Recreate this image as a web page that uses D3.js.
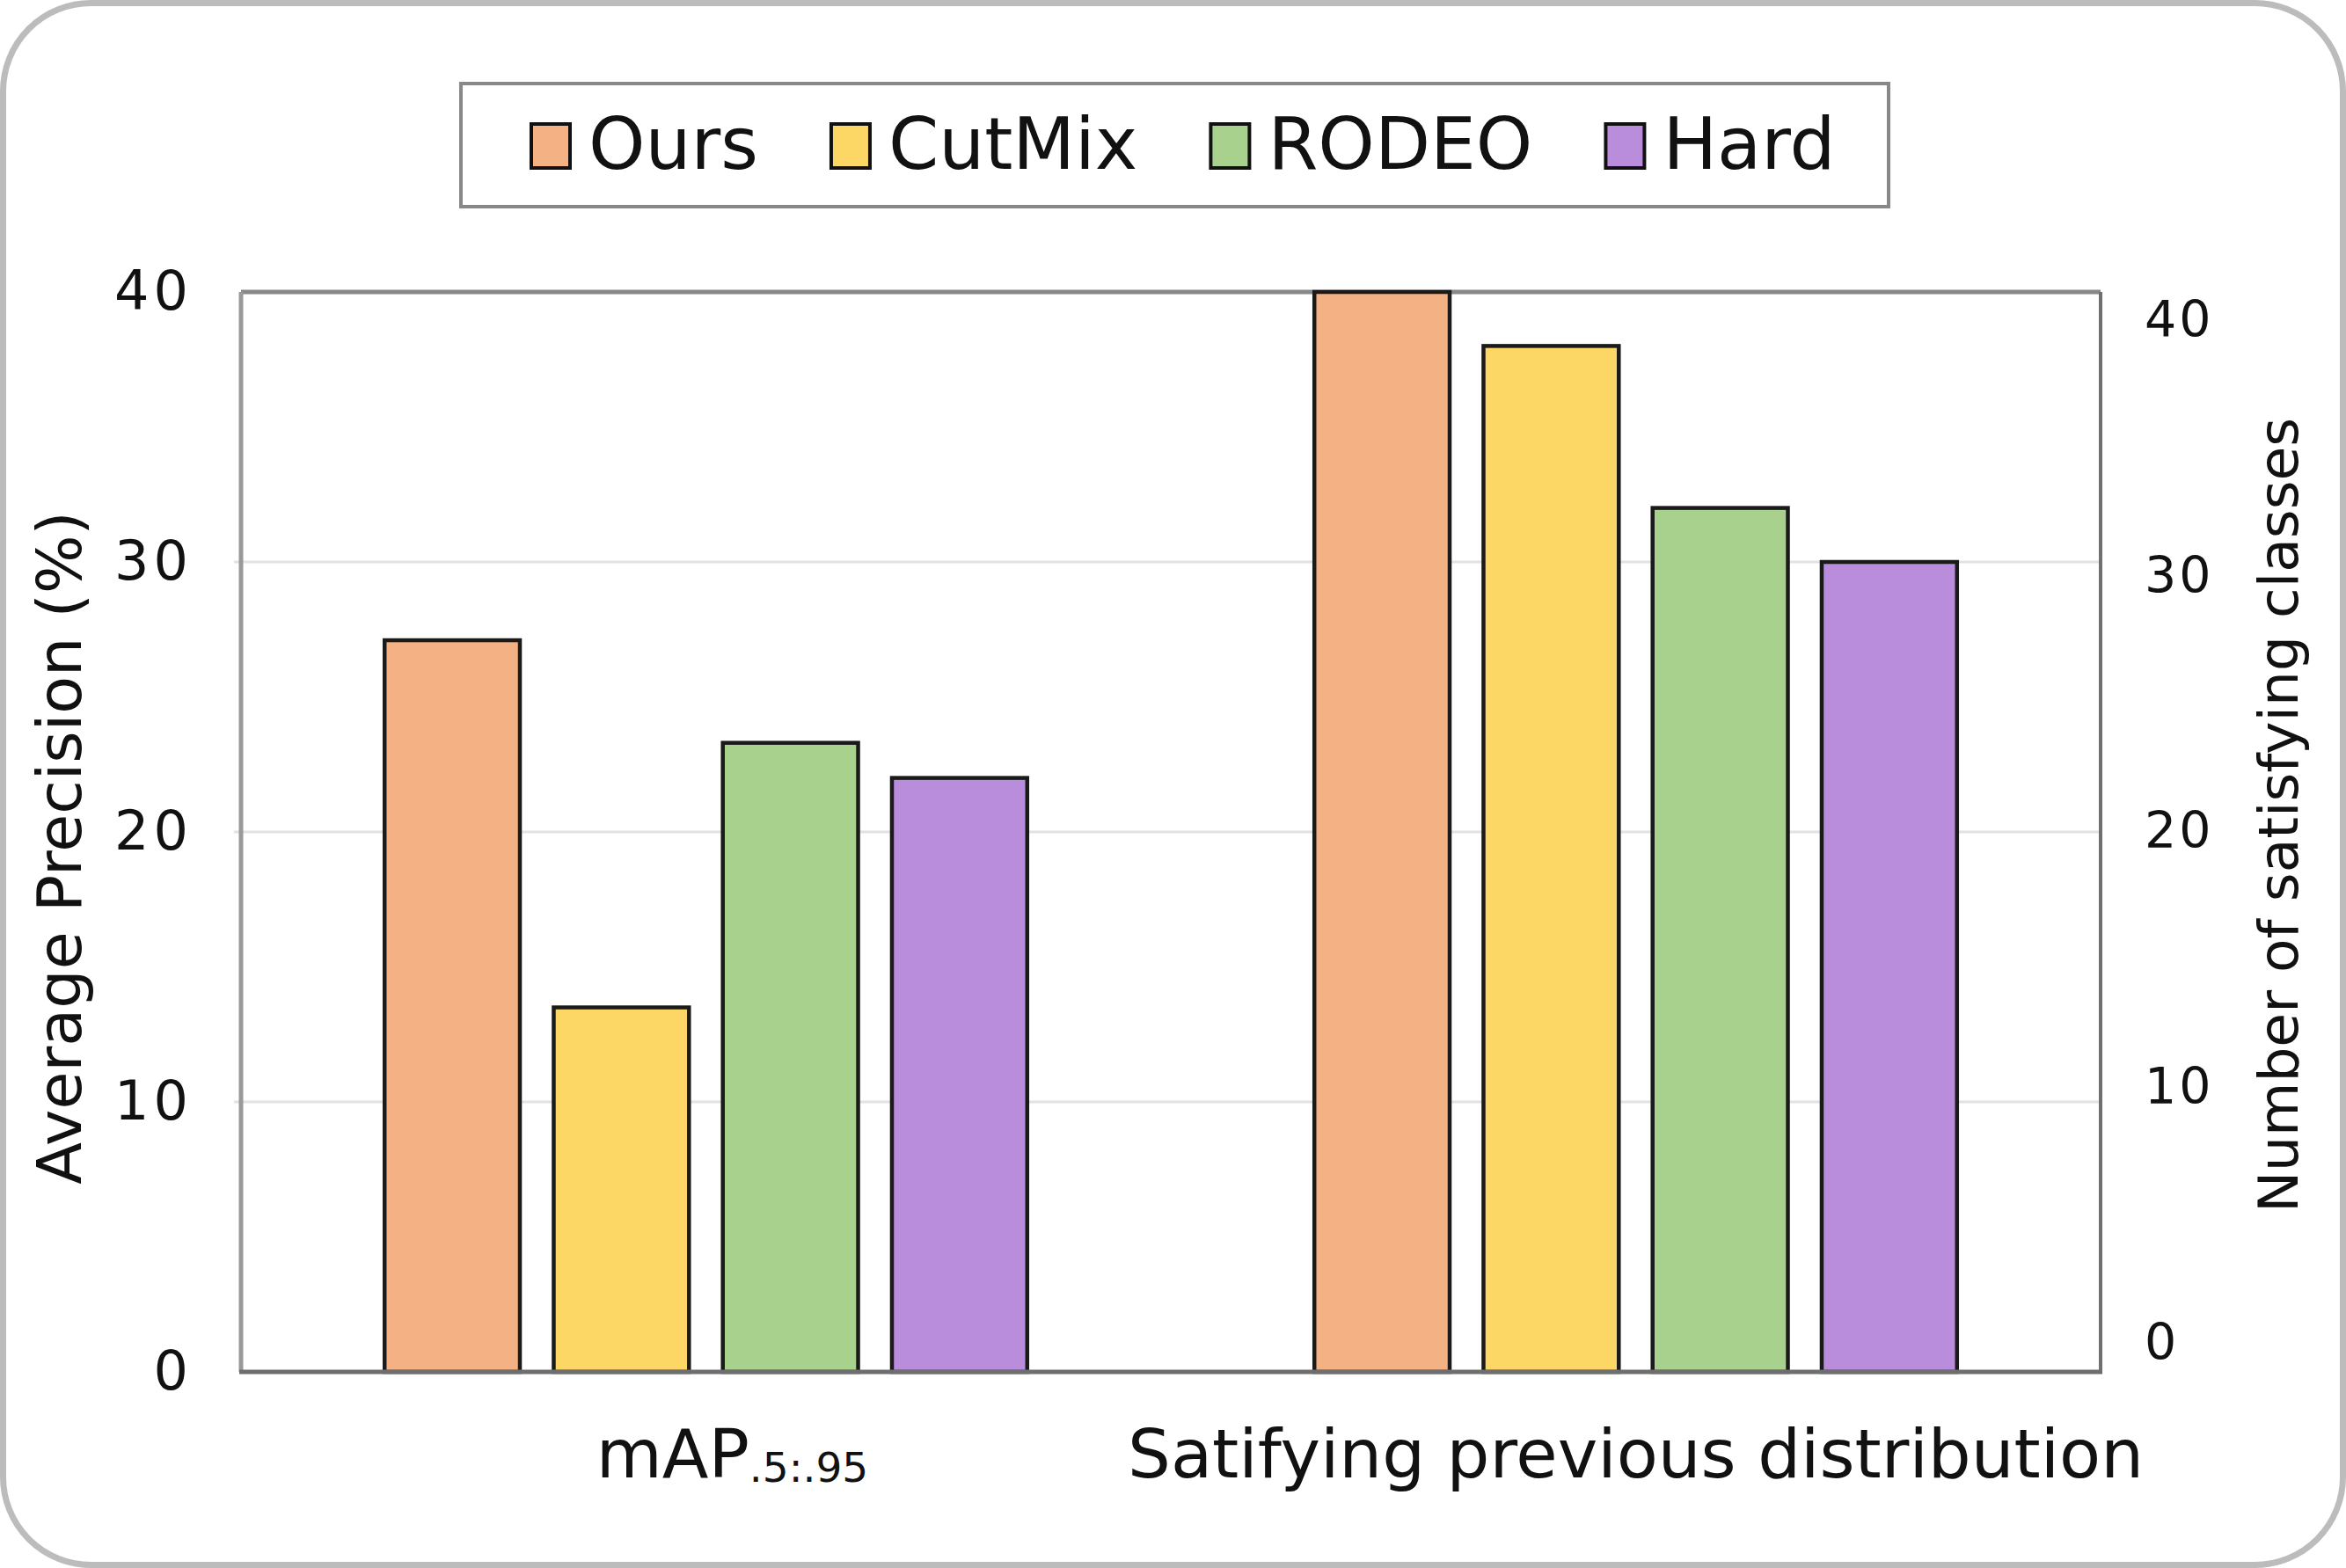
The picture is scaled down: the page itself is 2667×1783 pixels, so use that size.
<!DOCTYPE html>
<html>
<head>
<meta charset="utf-8">
<script src="https://cdn.jsdelivr.net/npm/d3@7"></script>
<style>
  html, body { margin: 0; padding: 0; background: #ffffff; }
  svg { display: block; font-family: "DejaVu Sans", Verdana, sans-serif; }
</style>
</head>
<body>
<svg id="chart" width="2667" height="1783"></svg>
<script>
// ---- data ----
const groups = ["mAP", "Satifying previous distribution"];
const series = ["Ours", "CutMix", "RODEO", "Hard"];
const colors = ["#F4B183", "#FDD766", "#A9D18E", "#B98CDC"];
const valuesMAP = [27.1, 13.5, 23.3, 22.0];
const valuesSatisfying = [40, 38, 32, 30];
const leftTicks = [0, 10, 20, 30, 40];
const rightTicks = [0, 10, 20, 30, 40];
const leftTitle = "Average Precision (%)";
const rightTitle = "Number of satisfying classes";
const mapSubscript = ".5:.95";

const svg = d3.select("#chart");
const W = 2667, H = 1783;

// outer rounded frame
svg.append("rect")
  .attr("x", 3.5).attr("y", 3.5)
  .attr("width", W - 7).attr("height", H - 7)
  .attr("rx", 100).attr("ry", 100)
  .attr("fill", "#ffffff")
  .attr("stroke", "#bcbcbc").attr("stroke-width", 7);

const plot = { x0: 274, x1: 2388, y0: 332, y1: 1560 };

const yLeft = d3.scaleLinear().domain([0, 40]).range([plot.y1, plot.y0]);
const yRight = d3.scaleLinear().domain([0, 40]).range([1527, 364]);

const x0 = d3.scaleBand().domain(groups).range([plot.x0, plot.x1]).padding(0);
const bw = x0.bandwidth();
const innerW = 769;
const x1 = d3.scaleBand().domain(series)
  .range([(bw - innerW) / 2, (bw + innerW) / 2])
  .paddingInner(0.2).paddingOuter(0.1);

// gridlines
const gridG = svg.append("g");
gridG.selectAll("line").data(leftTicks.filter(t => t > 0 && t < 40)).join("line")
  .attr("x1", plot.x0 - 8).attr("x2", plot.x1)
  .attr("y1", d => yLeft(d)).attr("y2", d => yLeft(d))
  .attr("stroke", "#e2e2e2").attr("stroke-width", 3);

// plot frame
svg.append("line").attr("x1", plot.x0).attr("x2", plot.x1).attr("y1", plot.y0).attr("y2", plot.y0)
  .attr("stroke", "#888888").attr("stroke-width", 5);
svg.append("line").attr("x1", plot.x1).attr("x2", plot.x1).attr("y1", plot.y0).attr("y2", plot.y1)
  .attr("stroke", "#707070").attr("stroke-width", 4);
svg.append("line").attr("x1", plot.x0).attr("x2", plot.x0).attr("y1", plot.y0).attr("y2", plot.y1)
  .attr("stroke", "#999999").attr("stroke-width", 5);

// bars
const data = [
  { group: groups[0], values: valuesMAP },
  { group: groups[1], values: valuesSatisfying }
];
const gBars = svg.append("g");
data.forEach(d => {
  const g = gBars.append("g").attr("transform", `translate(${x0(d.group)},0)`);
  g.selectAll("rect").data(d.values.map((v, i) => ({ v, s: series[i], c: colors[i] }))).join("rect")
    .attr("x", e => x1(e.s))
    .attr("width", x1.bandwidth())
    .attr("y", e => yLeft(e.v))
    .attr("height", e => yLeft(0) - yLeft(e.v))
    .attr("fill", e => e.c)
    .attr("stroke", "#1a1a1a").attr("stroke-width", 4.5);
});

// bottom axis line
svg.append("line").attr("x1", plot.x0 - 2).attr("x2", plot.x1 + 2).attr("y1", plot.y1).attr("y2", plot.y1)
  .attr("stroke", "#6e6e6e").attr("stroke-width", 5);

// left axis (labels)
const leftAxis = d3.axisLeft(yLeft).tickValues(leftTicks).tickSize(0).tickPadding(0);
const gl = svg.append("g").attr("transform", "translate(214,0)").call(leftAxis);
gl.select(".domain").remove();
gl.selectAll("text").attr("font-size", 62).attr("fill", "#111")
  .attr("font-family", "DejaVu Sans").attr("letter-spacing", 5).attr("dx", 5);

// right axis labels
const rightAxis = d3.axisRight(yRight).tickValues(rightTicks).tickSize(0).tickPadding(0);
const gr = svg.append("g").attr("transform", "translate(2438,0)").call(rightAxis);
gr.select(".domain").remove();
gr.selectAll("text").attr("font-size", 57).attr("fill", "#111")
  .attr("font-family", "DejaVu Sans").attr("letter-spacing", 3);

// axis titles
svg.append("text")
  .attr("transform", `translate(92,${(578 + 1350) / 2}) rotate(-90)`)
  .attr("text-anchor", "middle")
  .attr("font-size", 70).attr("fill", "#111")
  .text(leftTitle);
svg.append("text")
  .attr("transform", `translate(2612,${(468 + 1386) / 2}) rotate(-90)`)
  .attr("text-anchor", "middle")
  .attr("font-size", 63).attr("fill", "#111")
  .text(rightTitle);

// category labels
const catY = 1680;
const t1 = svg.append("text")
  .attr("x", x0(groups[0]) + bw / 2 + 30).attr("y", catY)
  .attr("text-anchor", "middle")
  .attr("font-size", 77).attr("fill", "#111");
t1.append("tspan").text(groups[0]);
t1.append("tspan").attr("font-size", 47).attr("dy", 5).text(mapSubscript);

svg.append("text")
  .attr("x", x0(groups[1]) + bw / 2).attr("y", catY)
  .attr("text-anchor", "middle")
  .attr("font-size", 77).attr("fill", "#111")
  .text(groups[1]);

// legend
svg.append("rect")
  .attr("x", 524).attr("y", 95).attr("width", 1623).attr("height", 140)
  .attr("fill", "#ffffff").attr("stroke", "#888888").attr("stroke-width", 4);
let lx = 604;
series.forEach((s, i) => {
  svg.append("rect")
    .attr("x", lx).attr("y", 141).attr("width", 44).attr("height", 50)
    .attr("fill", colors[i]).attr("stroke", "#111").attr("stroke-width", 4);
  const t = svg.append("text")
    .attr("x", lx + 65).attr("y", 192)
    .attr("font-size", 82).attr("fill", "#111")
    .text(s);
  lx += 65 + t.node().getComputedTextLength() + 83;
});
</script>
</body>
</html>
